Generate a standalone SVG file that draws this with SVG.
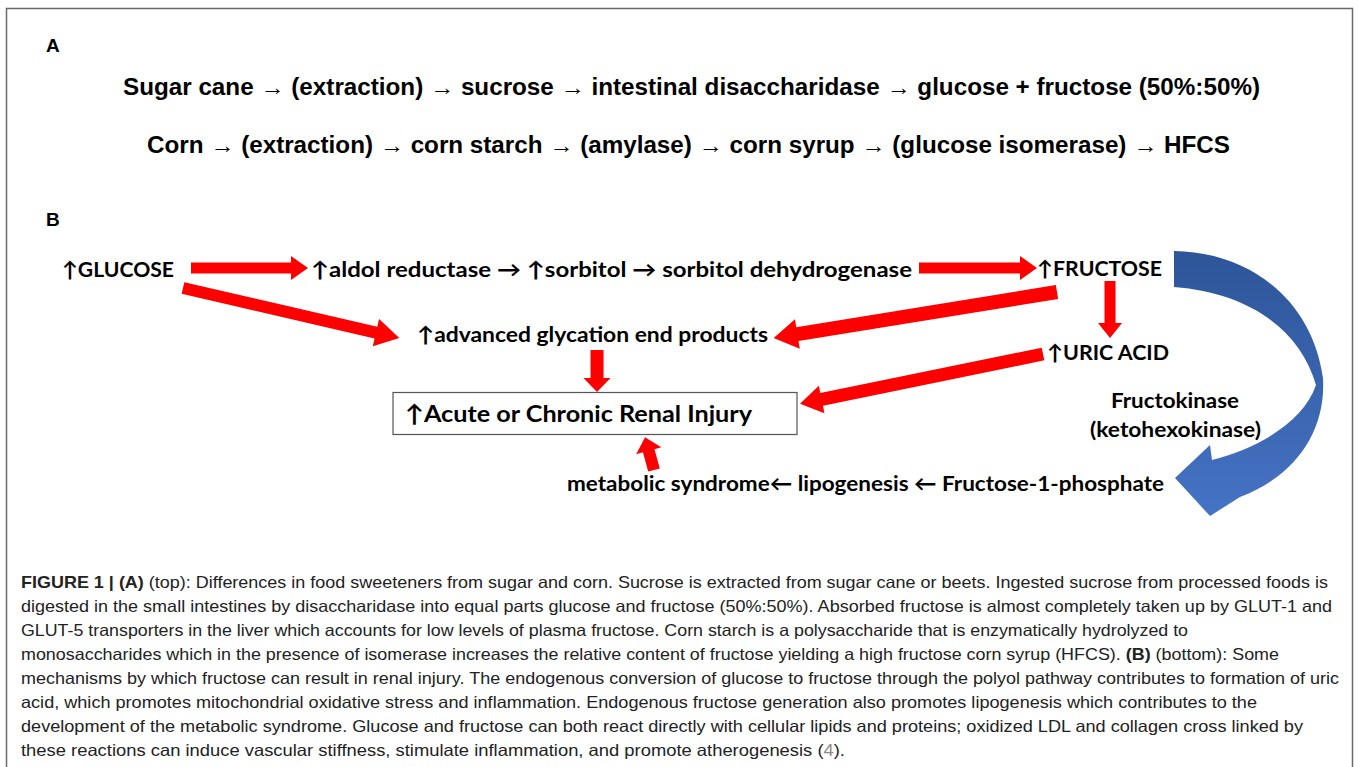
<svg xmlns="http://www.w3.org/2000/svg" width="1358" height="767" viewBox="0 0 1358 767">
<style>
.pa{font-family:"Liberation Sans",Arial,sans-serif;font-weight:bold;font-size:23px;fill:#000}
.lbl{font-family:"Liberation Sans",Arial,sans-serif;font-weight:bold;font-size:19px;fill:#000}
.nb{font-family:Lato,"DejaVu Sans",sans-serif;font-weight:bold;font-size:21px;fill:#000}
.box{font-family:Lato,"DejaVu Sans",sans-serif;font-weight:bold;font-size:23.5px;fill:#000}
.cap{font-family:"Liberation Sans",Arial,sans-serif;font-size:16.5px;fill:#222}
.b{font-weight:bold}
.ref{fill:#8a8a8a}
.red{fill:#ff0000}
</style>
<defs>
<linearGradient id="blueGrad" x1="0" y1="0" x2="0" y2="1">
<stop offset="0" stop-color="#2d5598"/>
<stop offset="1" stop-color="#4573c4"/>
</linearGradient>
</defs>
<rect x="0" y="0" width="1358" height="767" fill="#fff"/>
<rect x="6.5" y="8.5" width="1346" height="800" fill="none" stroke="#6a6a6a" stroke-width="1.5"/>

<g id="panel-a">
<text class="lbl" x="46" y="52">A</text>
<text class="pa" x="123" y="95" textLength="1137" lengthAdjust="spacingAndGlyphs">Sugar cane → (extraction) → sucrose → intestinal disaccharidase → glucose + fructose (50%:50%)</text>
<text class="pa" x="147" y="153" textLength="1083" lengthAdjust="spacingAndGlyphs">Corn → (extraction) → corn starch → (amylase) → corn syrup → (glucose isomerase) → HFCS</text>
</g>

<text class="lbl" x="46" y="226">B</text>

<g id="connectors">
<path class="red" d="M0,-5.5H100V-12L117,0L100,12V5.5H0Z" transform="translate(191,268)"/>
<path class="red" d="M0,-5.5H101V-12L118,0L101,12V5.5H0Z" transform="translate(919,268)"/>
<path class="red" d="M0,-6H198V-14L222,0L198,14V6H0Z" transform="translate(183,288) rotate(13)"/>
<path class="red" d="M0,-7H263V-15L287,0L263,15V7H0Z" transform="translate(1057,292) rotate(170.8)"/>
<path class="red" d="M0,-5.5H42V-12L57,0L42,12V5.5H0Z" transform="translate(1110,281) rotate(90)"/>
<path class="red" d="M0,-6.5H226V-14L248,0L226,14V6.5H0Z" transform="translate(1043,354) rotate(168.4)"/>
<path class="red" d="M0,-6.5H28V-13.5L42,0L28,13.5V6.5H0Z" transform="translate(597,350) rotate(90)"/>
<path class="red" d="M0,-6H20V-13L34,0L20,13V6H0Z" transform="translate(654,470) rotate(-105.3)"/>
<path fill="url(#blueGrad)" d="M1174,251 C1250,252 1312,300 1323,378 C1326,432 1295,476 1240,497 L1210,516 L1175,478 L1210,445 L1212,460 C1262,447 1304,420 1316,385 C1300,330 1250,293 1174,287 Z"/>
</g>

<g id="glucose"><text class="nb" x="62" y="277" textLength="112" lengthAdjust="spacingAndGlyphs">↑GLUCOSE</text></g>
<g id="polyol-chain"><text class="nb" x="311" y="277" textLength="601" lengthAdjust="spacingAndGlyphs">↑aldol reductase → ↑sorbitol → sorbitol dehydrogenase</text></g>
<g id="fructose"><text class="nb" x="1037" y="276" textLength="125" lengthAdjust="spacingAndGlyphs">↑FRUCTOSE</text></g>
<g id="age"><text class="nb" x="417" y="342" textLength="351" lengthAdjust="spacingAndGlyphs">↑advanced glycation end products</text></g>
<g id="uric-acid"><text class="nb" x="1047" y="360" textLength="122" lengthAdjust="spacingAndGlyphs">↑URIC ACID</text></g>
<g id="renal-injury">
<rect x="393" y="392.5" width="404" height="42" fill="#fff" stroke="#555" stroke-width="1.2"/>
<text class="box" x="405" y="422" textLength="347" lengthAdjust="spacingAndGlyphs">↑Acute or Chronic Renal Injury</text>
</g>
<g id="fructokinase">
<text class="nb" x="1111" y="408" textLength="128" lengthAdjust="spacingAndGlyphs">Fructokinase</text>
<text class="nb" x="1090" y="437" textLength="171" lengthAdjust="spacingAndGlyphs">(ketohexokinase)</text>
</g>
<g id="lipogenesis-chain"><text class="nb" x="567" y="491" textLength="597" lengthAdjust="spacingAndGlyphs">metabolic syndrome← lipogenesis ← Fructose-1-phosphate</text></g>

<g id="caption">
<text class="cap" x="21" y="588" textLength="1307" lengthAdjust="spacingAndGlyphs"><tspan class="b">FIGURE 1 | (A)</tspan> (top): Differences in food sweeteners from sugar and corn. Sucrose is extracted from sugar cane or beets. Ingested sucrose from processed foods is</text>
<text class="cap" x="21" y="612" textLength="1311" lengthAdjust="spacingAndGlyphs">digested in the small intestines by disaccharidase into equal parts glucose and fructose (50%:50%). Absorbed fructose is almost completely taken up by GLUT-1 and</text>
<text class="cap" x="21" y="636" textLength="1167" lengthAdjust="spacingAndGlyphs">GLUT-5 transporters in the liver which accounts for low levels of plasma fructose. Corn starch is a polysaccharide that is enzymatically hydrolyzed to</text>
<text class="cap" x="21" y="660" textLength="1258" lengthAdjust="spacingAndGlyphs">monosaccharides which in the presence of isomerase increases the relative content of fructose yielding a high fructose corn syrup (HFCS). <tspan class="b">(B)</tspan> (bottom): Some</text>
<text class="cap" x="21" y="684" textLength="1318" lengthAdjust="spacingAndGlyphs">mechanisms by which fructose can result in renal injury. The endogenous conversion of glucose to fructose through the polyol pathway contributes to formation of uric</text>
<text class="cap" x="21" y="708" textLength="1236" lengthAdjust="spacingAndGlyphs">acid, which promotes mitochondrial oxidative stress and inflammation. Endogenous fructose generation also promotes lipogenesis which contributes to the</text>
<text class="cap" x="21" y="732" textLength="1282" lengthAdjust="spacingAndGlyphs">development of the metabolic syndrome. Glucose and fructose can both react directly with cellular lipids and proteins; oxidized LDL and collagen cross linked by</text>
<text class="cap" x="21" y="756" textLength="824" lengthAdjust="spacingAndGlyphs">these reactions can induce vascular stiffness, stimulate inflammation, and promote atherogenesis (<tspan class="ref">4</tspan>).</text>
</g>
</svg>
